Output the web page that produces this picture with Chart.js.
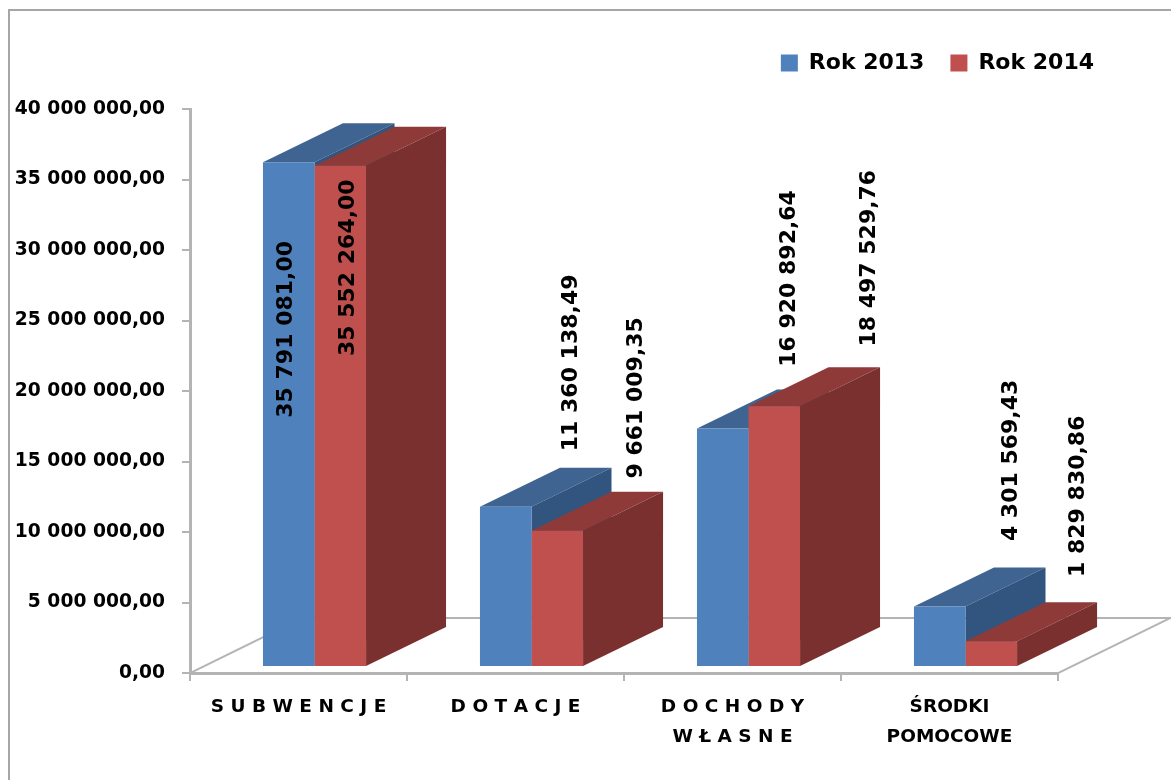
<!DOCTYPE html>
<html>
<head>
<meta charset="utf-8">
<script src="https://cdn.jsdelivr.net/npm/chart.js@4"></script>
<style>
  html, body { margin: 0; padding: 0; background: #fff; }
  #wrap { position: relative; width: 1171px; height: 780px; overflow: hidden; }
  #frame { position: absolute; left: 8px; top: 9px; right: -4px; bottom: -4px; border: 2px solid #a6a6a6; }
  canvas { position: absolute; left: 0; top: 0; filter: blur(0.5px); }
</style>
</head>
<body>
<div id="wrap">
  <div id="frame"></div>
  <canvas id="chart" width="1171" height="780"></canvas>
</div>
<script>
const categories = [['S U B W E N C J E'], ['D O T A C J E'], ['D O C H O D Y', 'W Ł A S N E'], ['ŚRODKI', 'POMOCOWE']];
const rok2013 = [35791081.00, 11360138.49, 16920892.64, 4301569.43];
const rok2014 = [35552264.00, 9661009.35, 18497529.76, 1829830.86];
const labels2013 = ['35 791 081,00', '11 360 138,49', '16 920 892,64', '4 301 569,43'];
const labels2014 = ['35 552 264,00', '9 661 009,35', '18 497 529,76', '1 829 830,86'];
const yTicks = ['0,00', '5 000 000,00', '10 000 000,00', '15 000 000,00', '20 000 000,00', '25 000 000,00', '30 000 000,00', '35 000 000,00', '40 000 000,00'];

// przesuniecia etykiet wzgledem gornej krawedzi slupka
const labelNudge = [
    [[-2, 167], [66, -144], [67, -150], [72, -146]],
    [[8, 102], [79, -133], [95, -148], [87, -145]]
];

const DEPTH_X = 80, DEPTH_Y = -39;
const SHIFT_X = 16, SHIFT_Y = -6;
const FONT = '"DejaVu Sans"';

function shade(ctx, pts, col) {
    ctx.fillStyle = col;
    ctx.beginPath();
    pts.forEach((p, i) => i ? ctx.lineTo(p[0], p[1]) : ctx.moveTo(p[0], p[1]));
    ctx.closePath();
    ctx.fill();
}

// podloga, a potem boki i wierzch slupkow 3D, pod przednimi scianami
const floorPlugin = {
    id: 'floor',
    beforeDatasetsDraw(chart) {
        const { ctx, chartArea: a } = chart;
        const dx = 112, dy = -55;
        ctx.save();
        ctx.strokeStyle = '#b4b4b4';
        ctx.lineWidth = 2;
        ctx.beginPath();
        ctx.moveTo(a.left, a.bottom);
        ctx.lineTo(a.left + dx, a.bottom + dy);
        ctx.lineTo(a.right + dx, a.bottom + dy);
        ctx.lineTo(a.right, a.bottom);
        ctx.stroke();
        ctx.restore();
        // slupki stoja troche w glebi podlogi
        ctx.save();
        ctx.translate(SHIFT_X, SHIFT_Y);
        chart.data.datasets.forEach((ds, d) => {
            chart.getDatasetMeta(d).data.forEach(b => {
                const l = b.x - b.width / 2, r = b.x + b.width / 2, t = b.y, bt = b.base;
                shade(ctx, [[l, t], [r, t], [r + DEPTH_X, t + DEPTH_Y], [l + DEPTH_X, t + DEPTH_Y]], ds.topColor);
                shade(ctx, [[r, t], [r + DEPTH_X, t + DEPTH_Y], [r + DEPTH_X, bt + DEPTH_Y], [r, bt]], ds.sideColor);
            });
        });
    },
    afterDatasetsDraw(chart) {
        chart.ctx.restore();
    }
};

const valueLabels = {
    id: 'valueLabels',
    afterDraw(chart) {
        const { ctx } = chart;
        [labels2013, labels2014].forEach((texts, d) => {
            chart.getDatasetMeta(d).data.forEach((b, i) => {
                const n = labelNudge[d][i];
                ctx.save();
                ctx.translate(b.x + SHIFT_X + n[0], b.y + SHIFT_Y + n[1]);
                ctx.rotate(-Math.PI / 2);
                ctx.font = 'bold 22px ' + FONT;
                ctx.fillStyle = '#000';
                ctx.textAlign = 'center';
                ctx.textBaseline = 'middle';
                ctx.fillText(texts[i], 0, 0);
                ctx.restore();
            });
        });
    }
};

// legenda zaczyna sie poza obszarem wykresu, wiec ustawiamy ja recznie
const legendPlace = {
    id: 'legendPlace',
    afterLayout(chart) {
        const lg = chart.legend;
        const w = lg.right - lg.left;
        lg.right = 1120;
        lg.left = lg.right - w;
        lg.top -= 25;
        lg.bottom -= 25;
    }
};

new Chart(document.getElementById('chart'), {
    type: 'bar',
    data: {
        labels: categories,
        datasets: [
            { label: 'Rok 2013', data: rok2013, backgroundColor: '#4f81bd', topColor: '#3f6492', sideColor: '#31557f' },
            { label: 'Rok 2014', data: rok2014, backgroundColor: '#c0504d', topColor: '#8e3a38', sideColor: '#7a302e' }
        ]
    },
    options: {
        responsive: false,
        animation: false,
        layout: { padding: { left: 0, right: 113, top: 51, bottom: 17 } },
        datasets: { bar: { categoryPercentage: 0.475, barPercentage: 1 } },
        plugins: {
            tooltip: { enabled: false },
            legend: {
                position: 'top',
                align: 'end',
                labels: {
                    boxWidth: 17, boxHeight: 17, padding: 26,
                    color: '#000',
                    font: { family: FONT, weight: 'bold', size: 22 }
                }
            }
        },
        scales: {
            x: {
                grid: { drawOnChartArea: false, color: '#b4b4b4', lineWidth: 2, tickLength: 8, offset: true },
                border: { color: '#b4b4b4', width: 3 },
                ticks: {
                    color: '#000', padding: 11, maxRotation: 0,
                    font: { family: FONT, weight: 'bold', size: 18.5, lineHeight: 1.62 }
                }
            },
            y: {
                min: 0, max: 40000000,
                afterFit(s) { s.width = 190; },
                grid: { drawOnChartArea: false, color: '#b4b4b4', lineWidth: 2, tickLength: 8 },
                border: { color: '#b4b4b4', width: 3 },
                ticks: {
                    stepSize: 5000000, color: '#000', padding: 17,
                    font: { family: FONT, weight: 'bold', size: 18.7 },
                    callback: (v, i) => yTicks[i]
                }
            }
        }
    },
    plugins: [legendPlace, floorPlugin, valueLabels]
});
</script>
</body>
</html>
